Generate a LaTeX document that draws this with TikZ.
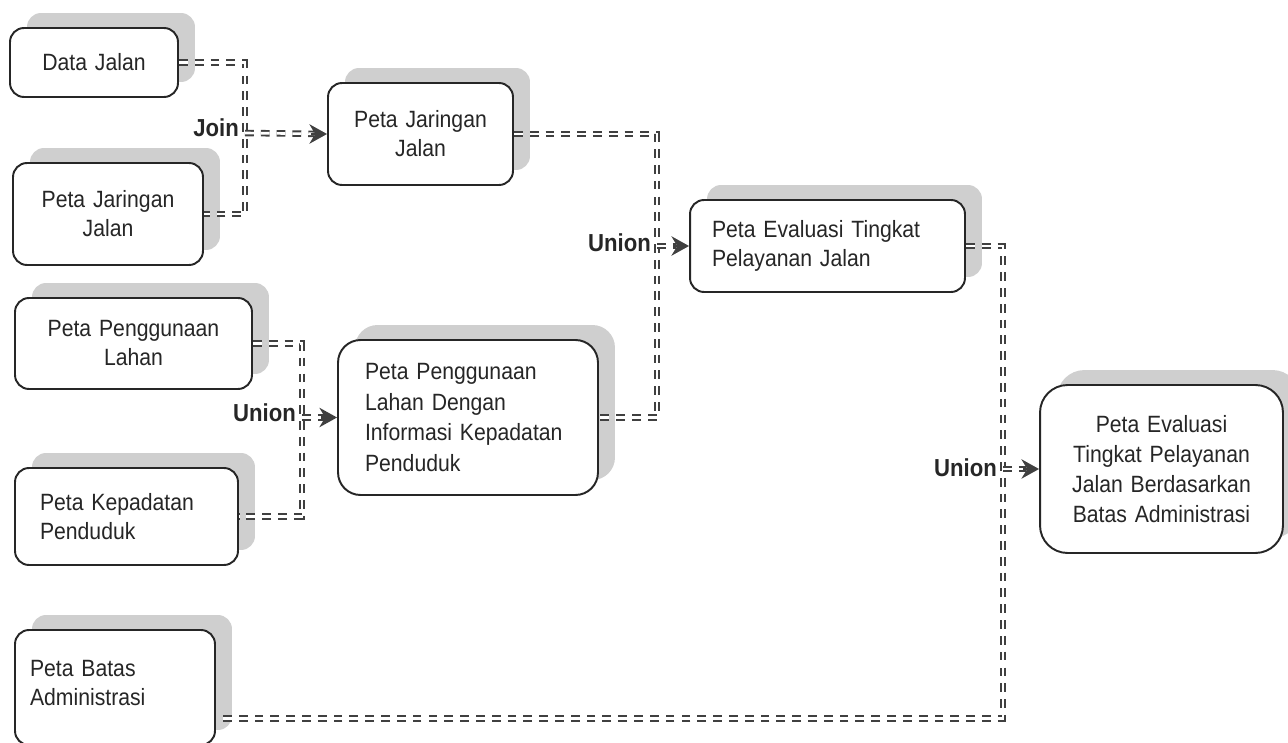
\documentclass[tikz,border=0pt]{standalone}
\usepackage{fontspec}
\setmainfont{Liberation Sans}[FakeStretch=0.9, WordSpace=0.7]
\usepackage{tikz}
\usetikzlibrary{arrows.meta, positioning, shadows, calc}

\begin{document}
\begin{tikzpicture}[
    x=0.02cm, y=-0.02cm,
    box/.style = {rectangle, draw=black!85, line width=1.1pt, fill=white, rounded corners=0.28cm, general shadow={fill=gray!38, shadow xshift=0.34cm, shadow yshift=0.3cm}, font=\fontsize{13.4pt}{16.5pt}\selectfont, text=black!85, align=center, inner xsep=0.2cm},
    flow/.style = {draw=black!75, dash pattern=on 5pt off 4pt, double=white, double distance=1.5pt, line width=1.1pt},
    tip/.style = {draw=black!75, line width=1.6pt, -{Stealth[length=10pt, width=11pt]}},
    lbl/.style = {font=\fontsize{14pt}{16pt}\selectfont\bfseries, text=black!85}
]
\useasboundingbox (0,0) rectangle (1288,743);

\node (dj) [box, text width=2.96cm, minimum height=1.38cm] at (94,62.5) {Data Jalan};
\node (pjj1) [box, text width=3.4cm, minimum height=2.04cm] at (108,214) {Peta Jaringan\\Jalan};
\node (pjj2) [box, text width=3.3cm, minimum height=2.04cm] at (420.5,134) {Peta Jaringan\\Jalan};
\node (pe) [box, align=left, inner xsep=0.44cm, text width=4.62cm, minimum height=1.84cm] at (827.5,246) {Peta Evaluasi Tingkat\\Pelayanan Jalan};
\node (ppl) [box, text width=4.34cm, minimum height=1.82cm] at (133.5,343.5) {Peta Penggunaan\\Lahan};
\node (pplk) [box, align=left, rounded corners=0.45cm, inner xsep=0.54cm, text width=4.12cm, minimum height=3.1cm, font=\fontsize{13.4pt}{17.5pt}\selectfont] at (468,417.5) {Peta Penggunaan\\Lahan Dengan\\Informasi Kepadatan\\Penduduk};
\node (pkp) [box, align=left, inner xsep=0.5cm, text width=3.46cm, minimum height=1.94cm] at (126.5,516.5) {Peta Kepadatan\\Penduduk};
\node (pba) [box, align=left, inner xsep=0.3cm, text width=3.4cm, minimum height=2.3cm, text depth=0.75cm] at (115,687.5) {Peta Batas\\Administrasi};
\node (pet) [box, rounded corners=0.55cm, text width=4.46cm, minimum height=3.36cm, font=\fontsize{13.4pt}{17pt}\selectfont] at (1161.5,469) {Peta Evaluasi\\Tingkat Pelayanan\\Jalan Berdasarkan\\Batas Administrasi};

\coordinate (j1) at (245,133);
\coordinate (j2) at (657,246);
\coordinate (j3) at (302,417.5);
\coordinate (j4) at (1003,469);

\node (join) [lbl, left=0pt of j1, yshift=3pt] {Join};
\node (un1) [lbl, left=0pt of j2, yshift=2pt] {Union};
\node (un2) [lbl, left=0pt of j3, yshift=3pt] {Union};
\node (un3) [lbl, left=0pt of j4, yshift=1pt] {Union};

\draw [flow] (dj.east) -| (j1) |- (pjj1.east);
\draw [flow, shorten >=0.26cm] (j1) -- (pjj2.west);
\draw [tip] ($(pjj2.west)+(-16,0)$) -- (pjj2.west);

\draw [flow] (pjj2.east) -| (j2) |- (pplk.east);
\draw [flow, shorten >=0.26cm] (j2) -- (pe.west);
\draw [tip] ($(pe.west)+(-16,0)$) -- (pe.west);

\draw [flow] (ppl.east) -| (j3) |- (pkp.east);
\draw [flow, shorten >=0.26cm] (j3) -- (pplk.west);
\draw [tip] ($(pplk.west)+(-16,0)$) -- (pplk.west);

\draw [flow] (pe.east) -| (j4) |- ([yshift=-0.62cm]pba.east);
\draw [flow, shorten >=0.26cm] (j4) -- (pet.west);
\draw [tip] ($(pet.west)+(-16,0)$) -- (pet.west);

\end{tikzpicture}
\end{document}
